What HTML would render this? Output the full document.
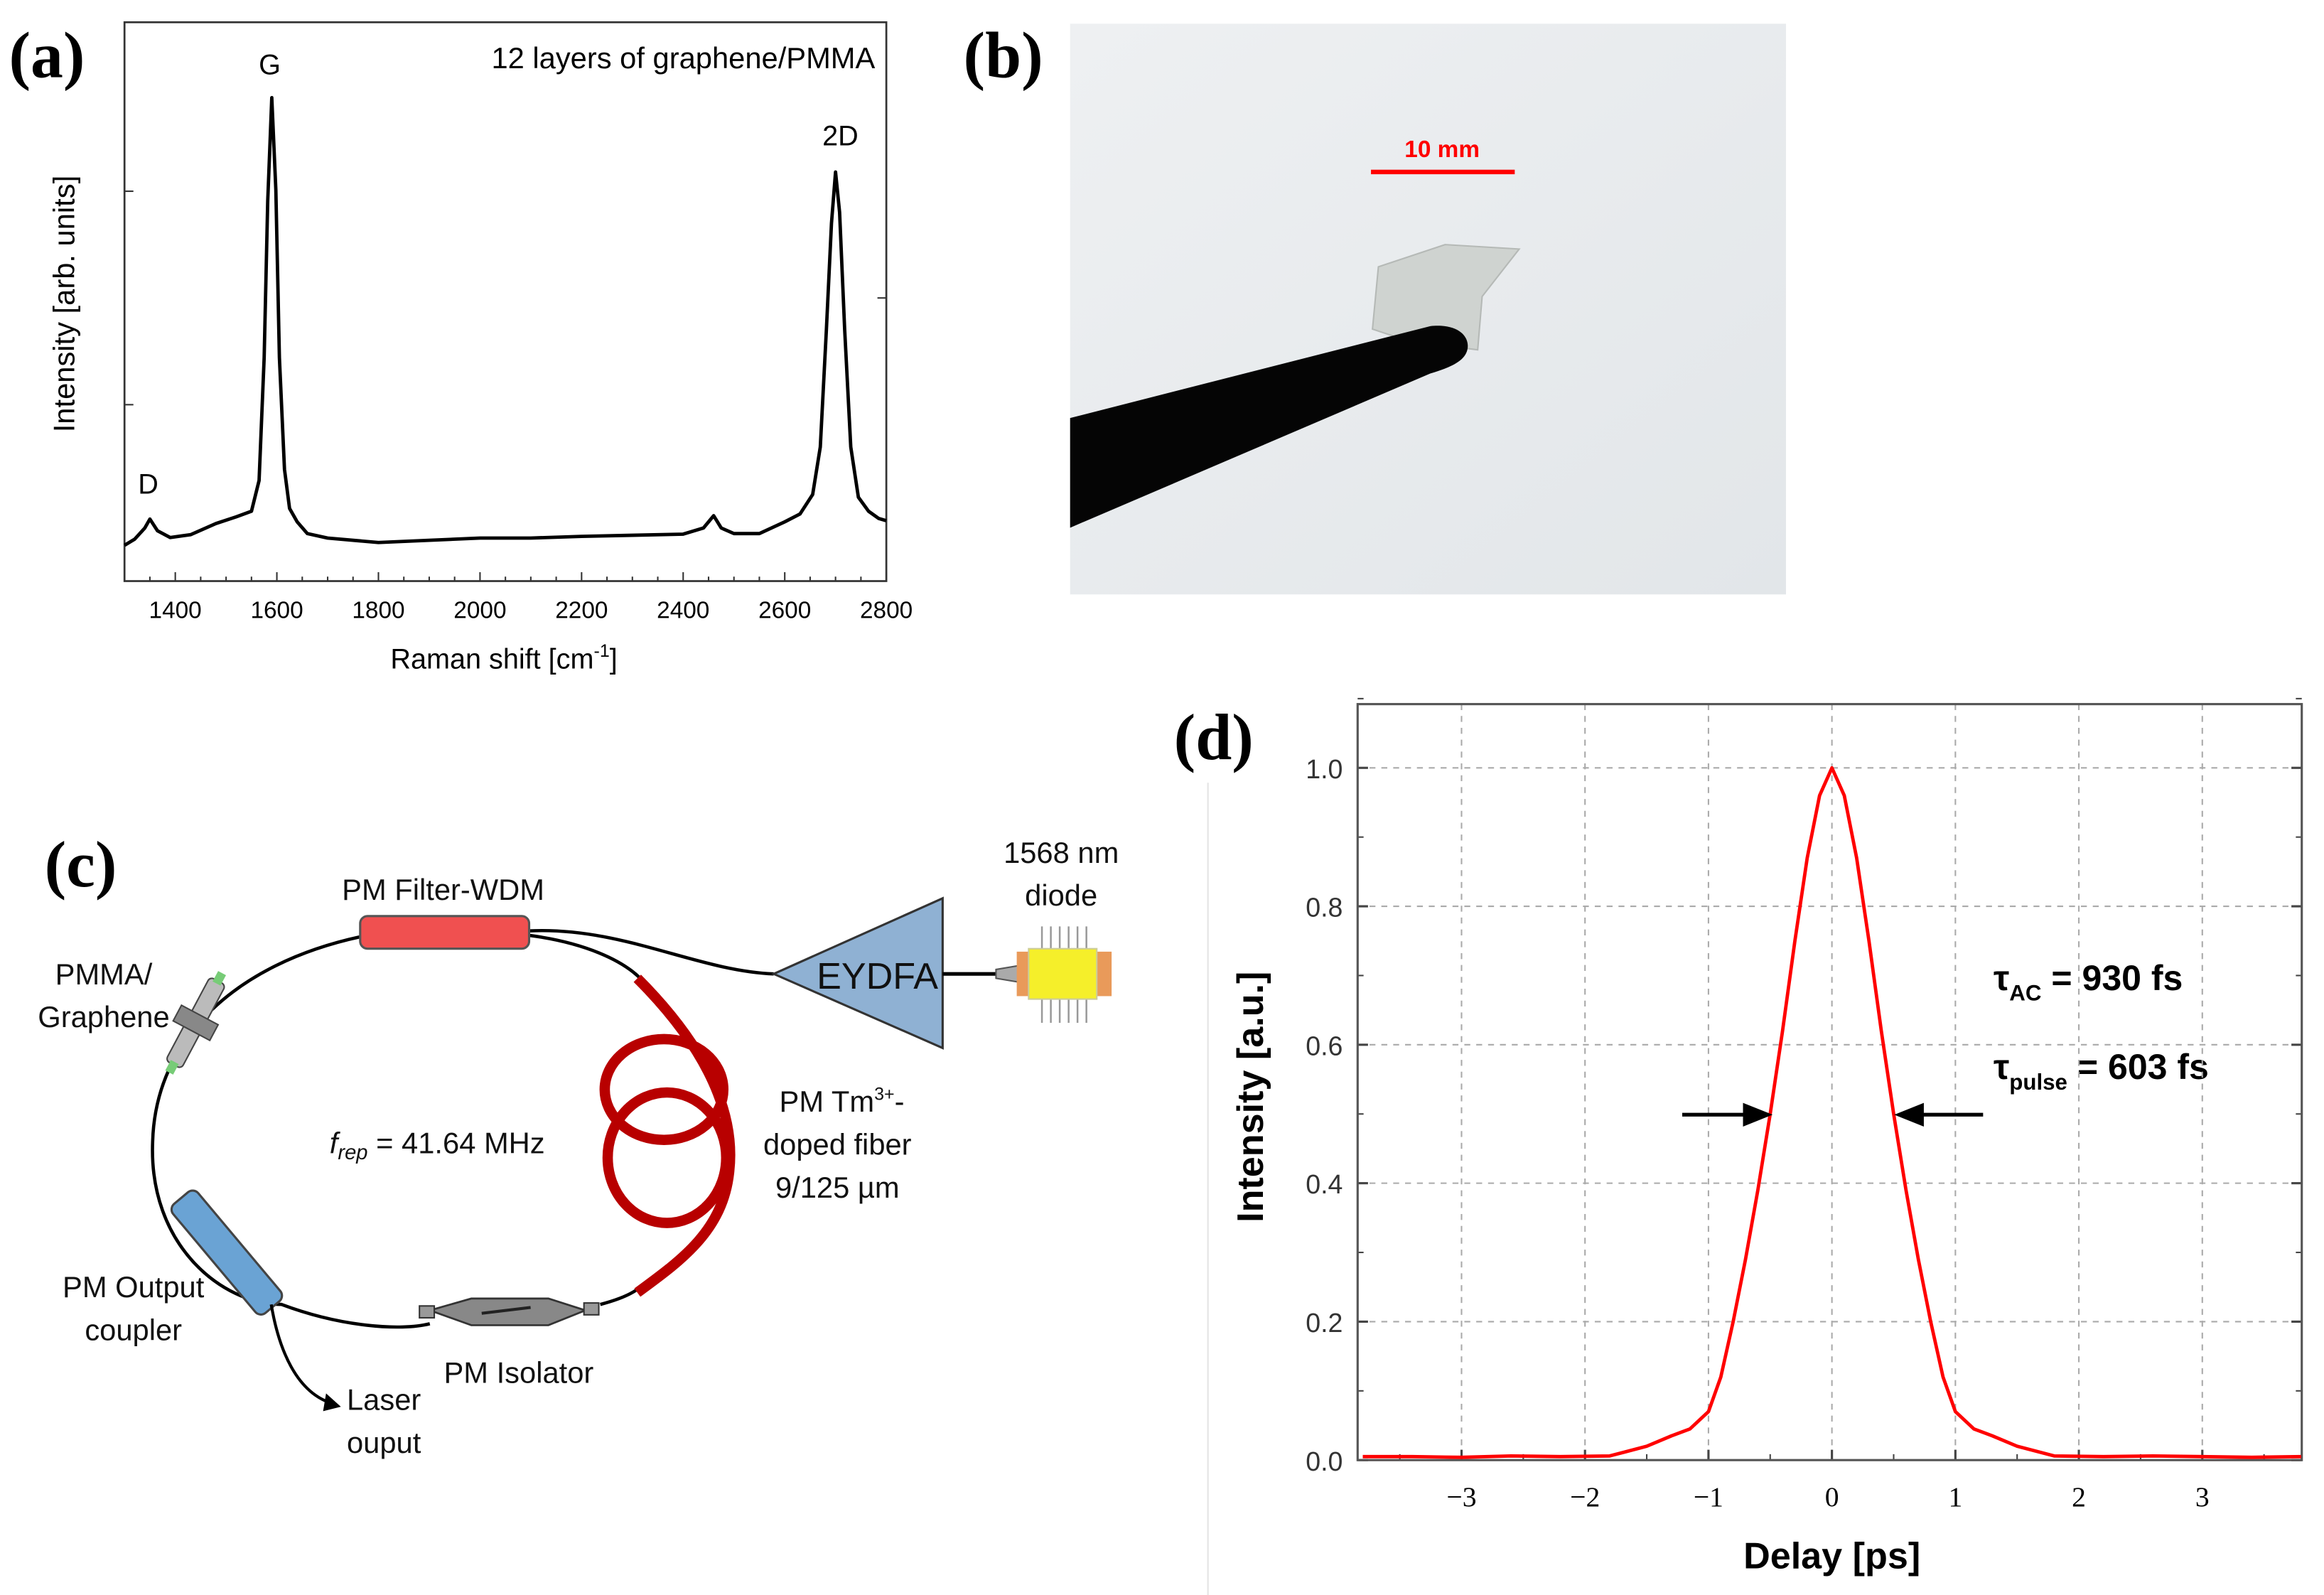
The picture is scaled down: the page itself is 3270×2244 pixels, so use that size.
<!DOCTYPE html>
<html><head><meta charset="utf-8"><style>
html,body{margin:0;padding:0;background:#fff;}
svg{display:block;font-family:"Liberation Sans",sans-serif;}
.serif{font-family:"Liberation Serif",serif;}
</style></head><body>
<svg id="fig" xmlns="http://www.w3.org/2000/svg" width="3270" height="2244" viewBox="0 0 1568 1076">
<rect width="1568" height="1076" fill="#fff"/>
<text x="6" y="52" class="serif" font-weight="bold" font-size="44">(a)</text>
<text x="650" y="52" class="serif" font-weight="bold" font-size="44">(b)</text>
<text x="30" y="598" class="serif" font-weight="bold" font-size="44">(c)</text>
<text x="792" y="512" class="serif" font-weight="bold" font-size="44">(d)</text>

<g id="pa">
<rect x="84" y="15" width="514" height="377" fill="none" stroke="#333" stroke-width="1.3"/>
<text x="461" y="46" font-size="20" text-anchor="middle">12 layers of graphene/PMMA</text>
<text x="182" y="50" font-size="19" text-anchor="middle">G</text>
<text x="567" y="98" font-size="19" text-anchor="middle">2D</text>
<text x="100" y="333" font-size="19" text-anchor="middle">D</text>
<text x="340" y="451" font-size="19" text-anchor="middle">Raman shift [cm<tspan dy="-8" font-size="12">-1</tspan><tspan dy="8">]</tspan></text>
<text transform="translate(50,205) rotate(-90)" font-size="20" text-anchor="middle">Intensity [arb. units]</text>
</g>

<g>
<defs><linearGradient id="bg" x1="0" y1="0" x2="1" y2="1"><stop offset="0" stop-color="#eef0f2"/><stop offset="1" stop-color="#e2e6e9"/></linearGradient></defs>
<rect x="722" y="16" width="483" height="385" fill="url(#bg)"/>
<polygon points="930,180 975,165 1025,168 1000,200 997,236 950,230 926,222" fill="#cfd3d0" stroke="#b5b9b6" stroke-width="1"/>
<path d="M722,282 L965,220 C985,218 992,228 990,236 C988,244 978,248 965,252 L722,356 Z" fill="#050505"/>
<line x1="925" y1="116" x2="1022" y2="116" stroke="#f00" stroke-width="3"/>
<text x="973" y="106" font-size="16" font-weight="bold" fill="#f00" text-anchor="middle">10 mm</text>
</g>

<g fill="none">
<path d="M243,632 C160,650 105,700 103,770 C100,840 150,880 190,880 C230,895 270,898 290,893" stroke="#000" stroke-width="2.2"/>
<path d="M405,880 C420,876 428,872 432,868" stroke="#000" stroke-width="2.2"/>
<path d="M357,631 C395,636 420,648 432,660" stroke="#000" stroke-width="2.2"/>
<path d="M357,628 C420,625 470,655 522,657" stroke="#000" stroke-width="2.2"/>
<g stroke="#b80000" stroke-width="7">
<path d="M430,660 C470,700 497,745 492,790 C488,830 460,850 430,872"/>
<ellipse cx="448" cy="735" rx="40" ry="34"/>
<ellipse cx="450" cy="781" rx="40" ry="44"/>
</g>
<rect x="243" y="618" width="114" height="22" rx="5" fill="#f05050" stroke="#555" stroke-width="1.5"/>
<g transform="translate(153,845) rotate(50)"><rect x="-48" y="-11" width="96" height="22" rx="5" fill="#6aa3d4" stroke="#444" stroke-width="1.5"/></g>
<g transform="translate(132,690) rotate(-62)"><rect x="-32" y="-6" width="64" height="12" rx="3" fill="#bbb" stroke="#444"/><rect x="-6" y="-14" width="12" height="28" fill="#888" stroke="#444"/><rect x="-38" y="-3" width="8" height="6" fill="#7c7"/><rect x="30" y="-3" width="8" height="6" fill="#7c7"/></g>
<g><polygon points="290,884 318,876 370,876 395,884 370,894 318,894" fill="#888" stroke="#333" stroke-width="1.3"/><rect x="283" y="881" width="10" height="8" fill="#999" stroke="#333"/><rect x="394" y="879" width="10" height="8" fill="#999" stroke="#333"/><line x1="325" y1="886" x2="358" y2="882" stroke="#222" stroke-width="2"/></g>
<path d="M183,880 C188,910 200,940 225,947" stroke="#000" stroke-width="2"/>
<polygon points="230,949 220,940 218,952" fill="#000"/>
<polygon points="522,657 636,606 636,707" fill="#8fb1d3" stroke="#333" stroke-width="1.5"/>
<line x1="636" y1="657" x2="672" y2="657" stroke="#000" stroke-width="2.5"/>
<polygon points="672,654 690,651 690,663 672,660" fill="#aaa" stroke="#555"/>
<g stroke="#999" stroke-width="1.2">
<line x1="703" y1="625" x2="703" y2="690"/><line x1="709" y1="625" x2="709" y2="690"/><line x1="715" y1="625" x2="715" y2="690"/><line x1="721" y1="625" x2="721" y2="690"/><line x1="727" y1="625" x2="727" y2="690"/><line x1="733" y1="625" x2="733" y2="690"/></g>
<rect x="686" y="642" width="64" height="30" fill="#e99a5a"/>
<rect x="694" y="640" width="46" height="34" fill="#f5ef2a" stroke="#cc9"/>
</g>
<g font-size="20" fill="#111">
<text x="299" y="607" text-anchor="middle">PM Filter-WDM</text>
<text x="716" y="582" text-anchor="middle">1568 nm</text>
<text x="716" y="611" text-anchor="middle">diode</text>
<text x="592" y="667" text-anchor="middle" font-size="25">EYDFA</text>
<text x="70" y="664" text-anchor="middle">PMMA/</text>
<text x="70" y="693" text-anchor="middle">Graphene</text>
<text x="295" y="778" text-anchor="middle"><tspan font-style="italic">f<tspan font-size="14" dy="4">rep</tspan></tspan><tspan dy="-4"> = 41.64 MHz</tspan></text>
<text x="568" y="750" text-anchor="middle">PM Tm<tspan font-size="12" dy="-8">3+</tspan><tspan dy="8">-</tspan></text>
<text x="565" y="779" text-anchor="middle">doped fiber</text>
<text x="565" y="808" text-anchor="middle">9/125 µm</text>
<text x="90" y="875" text-anchor="middle">PM Output</text>
<text x="90" y="904" text-anchor="middle">coupler</text>
<text x="350" y="933" text-anchor="middle">PM Isolator</text>
<text x="259" y="951" text-anchor="middle">Laser</text>
<text x="259" y="980" text-anchor="middle">ouput</text>
</g>

<line x1="815" y1="528" x2="815" y2="1076" stroke="#e4e4e4" stroke-width="1"/>
<g id="pd">
<text transform="translate(852,740) rotate(-90)" font-size="25" font-weight="bold" text-anchor="middle">Intensity [a.u.]</text>
<text x="1236" y="1058" font-size="25" font-weight="bold" text-anchor="middle">Delay [ps]</text>
<text x="1345" y="668" font-size="24" font-weight="bold">τ<tspan font-size="15" dy="7">AC</tspan><tspan dy="-7"> = 930 fs</tspan></text>
<text x="1345" y="728" font-size="24" font-weight="bold">τ<tspan font-size="15" dy="7">pulse</tspan><tspan dy="-7"> = 603 fs</tspan></text>
</g>
</svg>
<script>
const ramanShift = [1300,1320,1340,1350,1365,1390,1430,1480,1520,1550,1565,1575,1582,1590,1598,1605,1615,1625,1640,1660,1700,1800,1900,2000,2100,2200,2300,2400,2440,2460,2475,2500,2550,2600,2630,2655,2670,2682,2692,2700,2708,2718,2730,2745,2765,2785,2800];
const ramanIntensity = [6.4,7.5,9.5,11.1,9.0,7.8,8.3,10.3,11.5,12.5,18,40,68,86.5,70,40,20,13,10.6,8.5,7.7,6.9,7.3,7.7,7.7,8.0,8.2,8.4,9.5,11.7,9.5,8.5,8.5,10.6,12.0,15.5,24,45,64,73.2,66,45,24,15,12.5,11.2,10.8];
const ramanXTicks = [1400,1600,1800,2000,2200,2400,2600,2800];
const delay = [-3.8,-3.4,-3.0,-2.6,-2.2,-1.8,-1.5,-1.3,-1.15,-1.0,-0.9,-0.8,-0.7,-0.6,-0.5,-0.4,-0.3,-0.2,-0.1,0,0.1,0.2,0.3,0.4,0.5,0.6,0.7,0.8,0.9,1.0,1.15,1.3,1.5,1.8,2.2,2.6,3.0,3.4,3.8];
const acIntensity = [0.005,0.005,0.004,0.006,0.005,0.006,0.02,0.035,0.045,0.07,0.12,0.2,0.29,0.39,0.5,0.62,0.75,0.87,0.96,1.0,0.96,0.87,0.75,0.62,0.5,0.39,0.29,0.2,0.12,0.07,0.045,0.035,0.02,0.006,0.005,0.006,0.005,0.004,0.005];
const acXTicks = [-3,-2,-1,0,1,2,3];
const acYTicks = [0.0,0.2,0.4,0.6,0.8,1.0];

const NS="http://www.w3.org/2000/svg";
function mk(tag,attrs,parent){const e=document.createElementNS(NS,tag);for(const k in attrs)e.setAttribute(k,attrs[k]);parent.appendChild(e);return e;}

const ax=v=>84+(v-1300)*514/1500;
const ay=v=>392-v*3.77;
const pa=document.getElementById('pa');
for(let v=1300;v<=2800;v+=50){
  const major=v%200===0;
  const t=mk('line',{x1:ax(v),x2:ax(v),y1:392,y2:major?386:389,stroke:'#333','stroke-width':1},pa);
  
  
}
ramanXTicks.forEach(v=>{
  const t=mk('text',{x:ax(v),y:417,'font-size':16,'text-anchor':'middle'},pa);
  t.textContent=v;
  
  
});
[129,273].forEach(y=>{mk('line',{x1:84,x2:90,y1:y,y2:y,stroke:'#333'},pa);});
mk('line',{x1:592,x2:598,y1:201,y2:201,stroke:'#333'},pa);
const rp=mk('polyline',{points:ramanShift.map((s,i)=>ax(s)+','+ay(ramanIntensity[i])).join(' '),fill:'none',stroke:'#000','stroke-width':2.3,'stroke-linejoin':'round'},pa);



const dx=v=>1236+v*83.3;
const dy=v=>985-v*467;
const pd=document.getElementById('pd');
acYTicks.forEach(v=>{
  const g=mk('line',{x1:916,x2:1553,y1:dy(v),y2:dy(v),stroke:'#aaa','stroke-dasharray':'4,4','stroke-width':1},pd);
  
  
  const t=mk('text',{x:906,y:dy(v)+7,'font-size':18,'text-anchor':'end',fill:'#333'},pd);
  t.textContent=v.toFixed(1);
  
  
  mk('line',{x1:916,x2:923,y1:dy(v),y2:dy(v),stroke:'#444','stroke-width':1.5},pd);
  mk('line',{x1:1546,x2:1553,y1:dy(v),y2:dy(v),stroke:'#444','stroke-width':1.5},pd);
});
for(let v=0.1;v<1.1;v+=0.2){mk('line',{x1:916,x2:920,y1:dy(v),y2:dy(v),stroke:'#444'},pd);mk('line',{x1:1549,x2:1553,y1:dy(v),y2:dy(v),stroke:'#444'},pd);}
acXTicks.forEach(v=>{
  const g=mk('line',{x1:dx(v),x2:dx(v),y1:475,y2:985,stroke:'#aaa','stroke-dasharray':'4,4','stroke-width':1},pd);
  
  
  const t=mk('text',{x:dx(v),y:1016,'font-size':19,'text-anchor':'middle','class':'serif'},pd);
  t.textContent=v<0?'\u2212'+(-v):v;
  
  
  mk('line',{x1:dx(v),x2:dx(v),y1:985,y2:978,stroke:'#444','stroke-width':1.5},pd);
});
for(let v=-3.5;v<=3.5;v+=1){mk('line',{x1:dx(v),x2:dx(v),y1:985,y2:981,stroke:'#444'},pd);}
const fr=mk('rect',{x:916,y:475,width:637,height:510,fill:'none',stroke:'#555','stroke-width':1.5},pd);


const ap=mk('polyline',{points:delay.map((d,i)=>dx(d)+','+dy(acIntensity[i])).join(' '),fill:'none',stroke:'#f00','stroke-width':2.3,'stroke-linejoin':'round'},pd);


const a1=mk('line',{x1:1135,x2:1180,y1:752,y2:752,stroke:'#000','stroke-width':2.5},pd);


mk('polygon',{points:'1196,752 1176,744 1176,760',fill:'#000'},pd);
const a2=mk('line',{x1:1295,x2:1338,y1:752,y2:752,stroke:'#000','stroke-width':2.5},pd);


mk('polygon',{points:'1278,752 1298,744 1298,760',fill:'#000'},pd);
</script>
</body></html>
